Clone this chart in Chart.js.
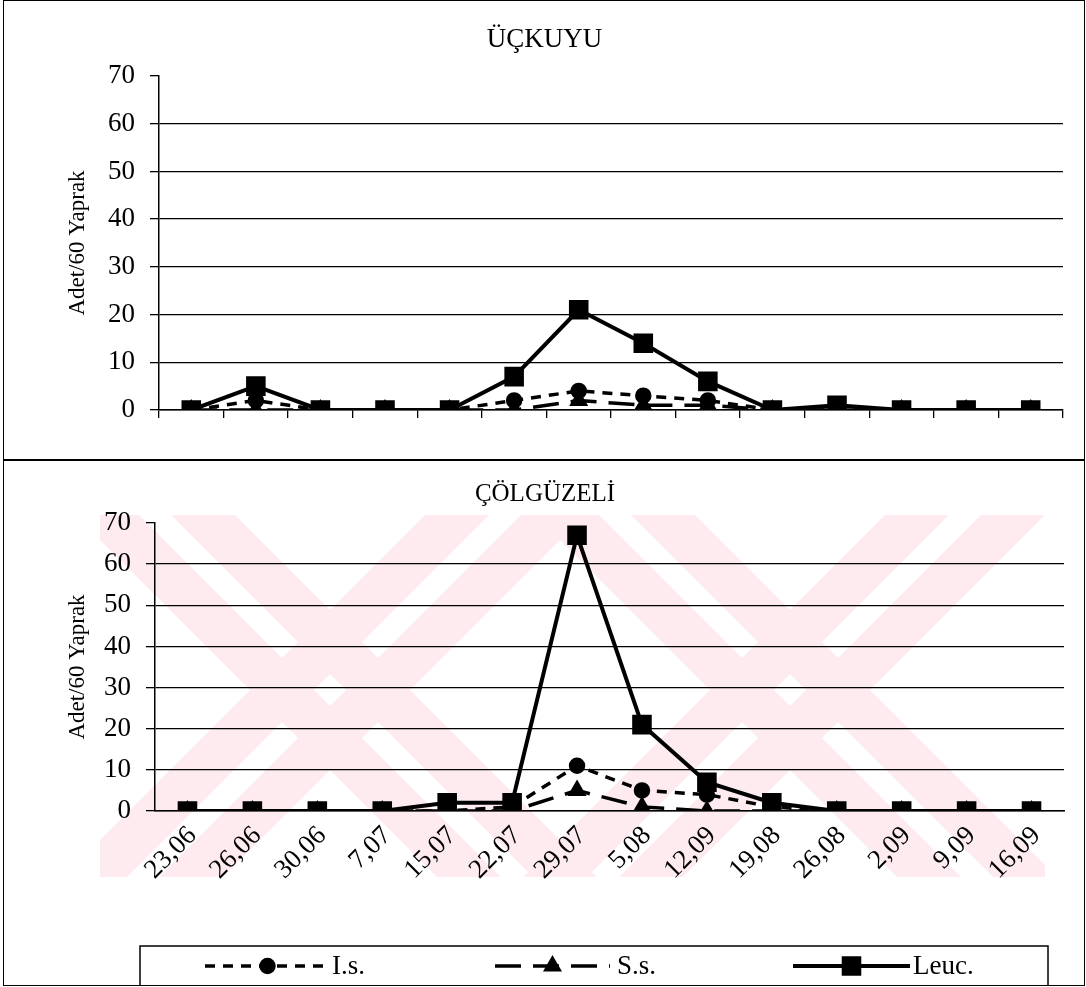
<!DOCTYPE html>
<html>
<head>
<meta charset="utf-8">
<script src="https://cdn.jsdelivr.net/npm/chart.js@4.4.1/dist/chart.umd.min.js"></script>
<style>
  body { margin: 0; background: #fff; }
  #page { position: relative; width: 1086px; height: 987px; overflow: hidden; }
  #frame { position: absolute; left: 3px; top: 0; width: 1082px; height: 986px; border: 1.5px solid #000; box-sizing: border-box; }
  #divider { position: absolute; left: 3px; top: 459px; width: 1082px; height: 1.5px; background: #000; }
  canvas { position: absolute; }
  #top { left: 4px; top: 1px; }
  #bottom { left: 4px; top: 461px; }
</style>
</head>
<body>
<div id="page">
  <div id="frame"></div>
  <div id="divider"></div>
  <canvas id="top" width="1078" height="458"></canvas>
  <canvas id="bottom" width="1078" height="525"></canvas>
</div>
<script>
// tarihler (gün,ay)
const dates = ['23,06', '26,06', '30,06', '7,07', '15,07', '22,07', '29,07', '5,08', '12,09', '19,08', '26,08', '2,09', '9,09', '16,09'];
const yTicks = [0, 10, 20, 30, 40, 50, 60, 70];

// ÜÇKUYU
const ucIs   = [0, 2, 0, 0, 0, 2, 4, 3, 2, 0, 0, 0, 0, 0];
const ucSs   = [0, 0, 0, 0, 0, 0, 2, 1, 1, 0, 0, 0, 0, 0];
const ucLeuc = [0, 5, 0, 0, 0, 7, 21, 14, 6, 0, 1, 0, 0, 0];

// ÇÖLGÜZELİ
const cgIs   = [0, 0, 0, 0, 0, 1, 11, 5, 4, 1, 0, 0, 0, 0];
const cgSs   = [0, 0, 0, 0, 0, 0, 5, 1, 0, 0, 0, 0, 0, 0];
const cgLeuc = [0, 0, 0, 0, 2, 2, 67, 21, 7, 2, 0, 0, 0, 0];

const seriesNames = ['I.s.', 'S.s.', 'Leuc.'];
const serif = 'Liberation Serif, Times New Roman, serif';

function makeDatasets(isVals, ssVals, leucVals) {
  return [
    { label: seriesNames[0], data: isVals, borderColor: '#000', backgroundColor: '#000', borderWidth: 3.5,
      borderDash: [10, 8], pointStyle: 'circle', pointRadius: 6.5, order: 2 },
    { label: seriesNames[1], data: ssVals, borderColor: '#000', backgroundColor: '#000', borderWidth: 3.5,
      borderDash: [26, 12], pointStyle: 'triangle', pointRadius: 7.5, order: 1 },
    { label: seriesNames[2], data: leucVals, borderColor: '#000', backgroundColor: '#000', borderWidth: 4,
      pointStyle: 'rect', pointRadius: 11, order: 0 },
  ];
}

// sol dolgu 22px; eksen genişliği + dolgu = çizim alanının solu
function yScale(axisWidth) {
  return {
    min: 0, max: 70,
    afterBuildTicks: (s) => { s.ticks = yTicks.map((v) => ({ value: v })); },
    afterFit: (s) => { s.width = axisWidth; },
    ticks: { color: '#000', font: { family: serif, size: 27 }, padding: 15 },
    grid: {
      color: (c) => (c.tick && c.tick.value === 70 ? 'rgba(0,0,0,0)' : '#000'),
      tickColor: '#000', tickLength: 9, lineWidth: 1.3,
    },
    border: { color: '#000', width: 1.5 },
    title: { display: true, text: 'Adet/60 Yaprak', color: '#000', font: { family: serif, size: 23 }, padding: { top: 38, bottom: 0 } },
  };
}

// tez filigranı: soluk pembe çizgili X'ler (alt panelin arkasında)
const watermark = {
  id: 'watermark',
  beforeDraw(chart) {
    const ctx = chart.ctx;
    const top = 54, bottom = 416;
    ctx.save();
    ctx.beginPath();
    ctx.rect(96, top, 945, bottom - top);
    ctx.clip();
    ctx.fillStyle = '#fdebef';
    [[326, 229], [786, 229]].forEach(([cx, cy]) => {
      [1, -1].forEach((d) => {
        [-48, 48].forEach((off) => {
          const xt = cx + d * (top - cy) + off;
          const xb = cx + d * (bottom - cy) + off;
          ctx.beginPath();
          ctx.moveTo(xt - 32, top);
          ctx.lineTo(xt + 32, top);
          ctx.lineTo(xb + 32, bottom);
          ctx.lineTo(xb - 32, bottom);
          ctx.closePath();
          ctx.fill();
        });
      });
    });
    ctx.restore();
  },
};

// alt grafiğin altındaki çerçeveli açıklama
const boxLegend = {
  id: 'boxLegend',
  afterDraw(chart) {
    const ctx = chart.ctx;
    const y = 505;
    const items = [
      { x0: 201, x1: 326, tx: 328 },
      { x0: 491, x1: 606, tx: 613 },
      { x0: 789, x1: 906, tx: 909 },
    ];
    ctx.save();
    ctx.strokeStyle = '#000';
    ctx.lineWidth = 1.5;
    ctx.strokeRect(136, 485, 908, 40);
    chart.data.datasets.forEach((ds, i) => {
      const it = items[i];
      ctx.setLineDash(ds.borderDash || []);
      ctx.lineWidth = ds.borderWidth;
      ctx.beginPath();
      ctx.moveTo(it.x0, y);
      ctx.lineTo(it.x1, y);
      ctx.stroke();
      ctx.setLineDash([]);
      ctx.fillStyle = '#000';
      Chart.helpers.drawPoint(ctx, { pointStyle: ds.pointStyle, radius: ds.pointRadius, rotation: 0, borderWidth: 1 }, (it.x0 + it.x1) / 2, y);
      ctx.font = '27px ' + serif;
      ctx.textBaseline = 'middle';
      ctx.textAlign = 'left';
      ctx.fillText(ds.label, it.tx, y + 1);
    });
    ctx.restore();
  },
};

new Chart(document.getElementById('top'), {
  type: 'line',
  data: { labels: dates, datasets: makeDatasets(ucIs, ucSs, ucLeuc) },
  options: {
    responsive: false, devicePixelRatio: 1, animation: false,
    layout: { padding: { left: 22, right: 19, top: 0, bottom: 0 } },
    plugins: {
      legend: { display: false }, tooltip: { enabled: false },
      title: { display: true, text: 'ÜÇKUYU', color: '#000', font: { family: serif, size: 27, weight: 'normal' }, padding: { top: 23, bottom: 19.6 } },
    },
    scales: {
      x: {
        offset: true,
        afterFit: (s) => { s.height = 49; },
        ticks: { callback: () => '' },
        grid: { offset: true, drawOnChartArea: false, drawTicks: true, tickLength: 8, tickColor: '#000', lineWidth: 1.3 },
        border: { color: '#000', width: 1.5 },
      },
      y: yScale(133),
    },
  },
});

new Chart(document.getElementById('bottom'), {
  type: 'line',
  data: { labels: dates, datasets: makeDatasets(cgIs, cgSs, cgLeuc) },
  options: {
    responsive: false, devicePixelRatio: 1, animation: false,
    layout: { padding: { left: 22, right: 18, top: 0, bottom: 70 } },
    plugins: {
      legend: { display: false }, tooltip: { enabled: false },
      title: { display: true, text: 'ÇÖLGÜZELİ', color: '#000', font: { family: serif, size: 25, weight: 'normal' }, padding: { top: 18, bottom: 14 } },
    },
    scales: {
      x: {
        offset: true,
        afterFit: (s) => { s.height = 105; },
        ticks: { color: '#000', font: { family: serif, size: 27 }, minRotation: 45, maxRotation: 45, autoSkip: false, padding: 1, labelOffset: 5 },
        grid: { display: false },
        border: { display: true, color: '#000', width: 1.5 },
      },
      y: yScale(129),
    },
  },
  plugins: [watermark, boxLegend],
});
</script>
</body>
</html>
